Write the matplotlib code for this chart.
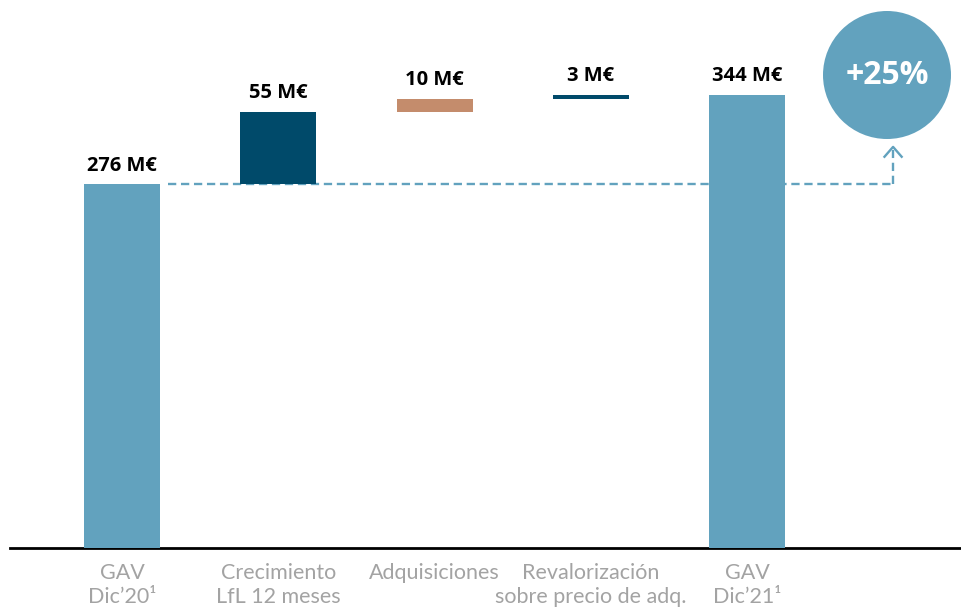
import numpy as np
import matplotlib.pyplot as plt
from matplotlib.patches import Circle

# data
categories = ['GAV\nDic\u201920\u00b9', 'Crecimiento\nLfL 12 meses', 'Adquisiciones',
              'Revalorización\nsobre precio de adq.', 'GAV\nDic\u201921\u00b9']
start_value = 276
steps = [55, 10, 3]
end_value = 344
labels = ['276 M€', '55 M€', '10 M€', '3 M€', '344 M€']
growth_label = '+25%'

light_blue = '#62A2BE'
dark_teal = '#004A6A'
copper = '#C48C6C'
colors = [light_blue, dark_teal, copper, dark_teal, light_blue]

plt.rcParams['font.family'] = ['Lato', 'DejaVu Sans']

# bar bottoms / heights for the waterfall
bottoms = [0]
heights = [start_value]
running = start_value
for s in steps:
    bottoms.append(running)
    heights.append(s)
    running += s
bottoms.append(0)
heights.append(end_value)

fig = plt.figure(figsize=(9.62, 6.10), dpi=100)
ax = fig.add_axes([10 / 962, 62 / 610, 952 / 962, 548 / 610])

x = np.arange(len(categories))
ax.bar(x, heights, bottom=bottoms, width=0.486, color=colors, zorder=3)

# value labels
for xi, b, h, lab in zip(x, bottoms, heights, labels):
    ax.text(xi, b + h + 10.5, lab, ha='center', va='baseline',
            fontsize=14.5, fontweight='bold', color='black',
            family=['Open Sans', 'DejaVu Sans'])

# dashed reference line from first bar to the arrow
x_end = 4.933
ax.plot([0.294, x_end], [start_value, start_value], color=light_blue,
        lw=1.7, dashes=(3.5, 2), zorder=1)
ax.plot([x_end, x_end], [start_value, 302], color=light_blue,
        lw=1.7, dashes=(3.5, 2), zorder=1)
ax.plot([x_end - 0.055, x_end, x_end + 0.055], [297, 304.5, 297],
        color=light_blue, lw=1.7, zorder=1)

ax.set_xlim(-0.7166, 5.374)
ax.set_ylim(0, 416)

ax.set_xticks(x)
ax.set_xticklabels(categories, fontsize=15.5, color='#A3A3A3', linespacing=1.25)
ax.tick_params(axis='x', length=0, pad=11)
ax.set_yticks([])
for side in ['top', 'right', 'left']:
    ax.spines[side].set_visible(False)
ax.spines['bottom'].set_linewidth(2)
ax.spines['bottom'].set_color('black')

# growth bubble
circ = Circle((8.87, 5.35), 0.64, transform=fig.dpi_scale_trans,
              facecolor=light_blue, edgecolor='none')
fig.add_artist(circ)
fig.text(8.87 / 9.62, 5.35 / 6.10, growth_label, ha='center', va='center',
         fontsize=23, fontweight='bold', color='white',
         family=['Open Sans', 'DejaVu Sans'])

plt.savefig('out.png', dpi=100)
